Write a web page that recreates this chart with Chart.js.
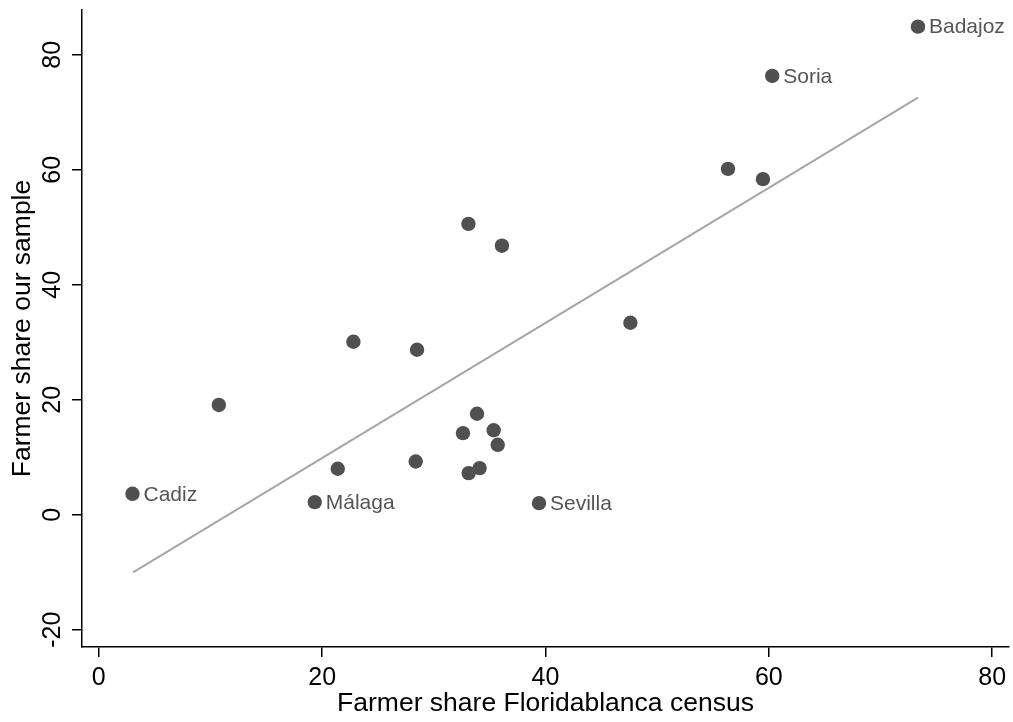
<!DOCTYPE html>
<html>
<head>
<meta charset="utf-8">
<script src="https://cdn.jsdelivr.net/npm/chart.js@4.4.1/dist/chart.umd.min.js"></script>
<style>
  html, body { margin: 0; padding: 0; background: #fff; }
  #wrap { width: 1013px; height: 722px; }
</style>
</head>
<body>
<div id="wrap"><canvas id="scatter"></canvas></div>
<script>
// Farmer share: Floridablanca census (x) vs our sample (y)
const censusShare = [73.35, 60.3, 56.34, 59.47, 33.1, 36.1, 47.6, 22.8, 28.5, 10.75,
  33.87, 32.61, 35.36, 35.72, 28.38, 21.4, 34.1, 33.12, 3.02, 19.34, 39.42];
const sampleShare = [84.9, 76.35, 60.17, 58.38, 50.6, 46.8, 33.4, 30.1, 28.7, 19.1,
  17.57, 14.2, 14.7, 12.17, 9.27, 8.0, 8.12, 7.25, 3.65, 2.2, 2.03];
const provinceLabels = ['Badajoz', 'Soria', '', '', '', '', '', '', '', '',
  '', '', '', '', '', '', '', '', 'Cadiz', 'Málaga', 'Sevilla'];

// fitted line end points
const fitX = [3.07, 73.35];
const fitY = [-10.03, 72.57];

const xTicks = [0, 20, 40, 60, 80];
const yTicks = [-20, 0, 20, 40, 60, 80];

const FONT = "'Liberation Sans', Arial, Helvetica, sans-serif";

const pointLabelPlugin = {
  id: 'pointLabels',
  afterDatasetsDraw(chart) {
    const ctx = chart.ctx;
    const meta = chart.getDatasetMeta(0);
    ctx.save();
    ctx.font = '21px ' + FONT;
    ctx.fillStyle = '#555555';
    ctx.textAlign = 'left';
    ctx.textBaseline = 'middle';
    meta.data.forEach(function(el, i) {
      if (provinceLabels[i]) ctx.fillText(provinceLabels[i], el.x + 11, el.y + 1);
    });
    ctx.restore();
  }
};

const ctx = document.getElementById('scatter');
new Chart(ctx, {
  type: 'scatter',
  data: {
    datasets: [{
      label: 'Provinces',
      data: censusShare.map((x, i) => ({ x: x, y: sampleShare[i] })),
      backgroundColor: '#505050',
      borderWidth: 0,
      pointRadius: 7.2,
      order: 1
    }, {
      type: 'line',
      label: 'Fitted',
      data: fitX.map((x, i) => ({ x: x, y: fitY[i] })),
      borderColor: '#a6a6a6',
      borderWidth: 2,
      pointRadius: 0,
      fill: false,
      order: 2
    }]
  },
  options: {
    responsive: true,
    maintainAspectRatio: false,
    animation: false,
    layout: { autoPadding: false, padding: { top: 10, right: 4, left: 0, bottom: 0 } },
    plugins: {
      legend: { display: false },
      tooltip: { enabled: false }
    },
    scales: {
      x: {
        type: 'linear',
        min: -1.5,
        max: 81.5,
        afterFit: function(scale) {
          scale.height = 75;
          scale.paddingLeft = 0;
          scale.paddingRight = 0;
        },
        afterBuildTicks: function(scale) { scale.ticks = xTicks.map(v => ({ value: v })); },
        ticks: { color: '#000', font: { family: FONT, size: 25 }, padding: 6, maxRotation: 0 },
        grid: { drawOnChartArea: false, drawTicks: true, tickLength: 10, color: '#000', lineWidth: 1.5 },
        border: { display: true, color: '#000', width: 1.5 },
        title: { display: true, text: 'Farmer share Floridablanca census', color: '#000',
          font: { family: FONT, size: 26.5 }, padding: { top: 0, bottom: 2 } }
      },
      y: {
        type: 'linear',
        min: -23,
        max: 87.8,
        afterFit: function(scale) {
          scale.width = 82;
          scale.paddingTop = 0;
          scale.paddingBottom = 0;
        },
        afterBuildTicks: function(scale) { scale.ticks = yTicks.map(v => ({ value: v })); },
        ticks: { color: '#000', font: { family: FONT, size: 25 }, padding: 1,
          minRotation: 90, maxRotation: 90, crossAlign: 'center' },
        grid: { drawOnChartArea: false, drawTicks: true, tickLength: 10, color: '#000', lineWidth: 1.5 },
        border: { display: true, color: '#000', width: 1.5 },
        title: { display: true, text: 'Farmer share our sample', color: '#000',
          font: { family: FONT, size: 26.5 }, padding: { top: 7, bottom: 0 } }
      }
    }
  },
  plugins: [pointLabelPlugin]
});
</script>
</body>
</html>
